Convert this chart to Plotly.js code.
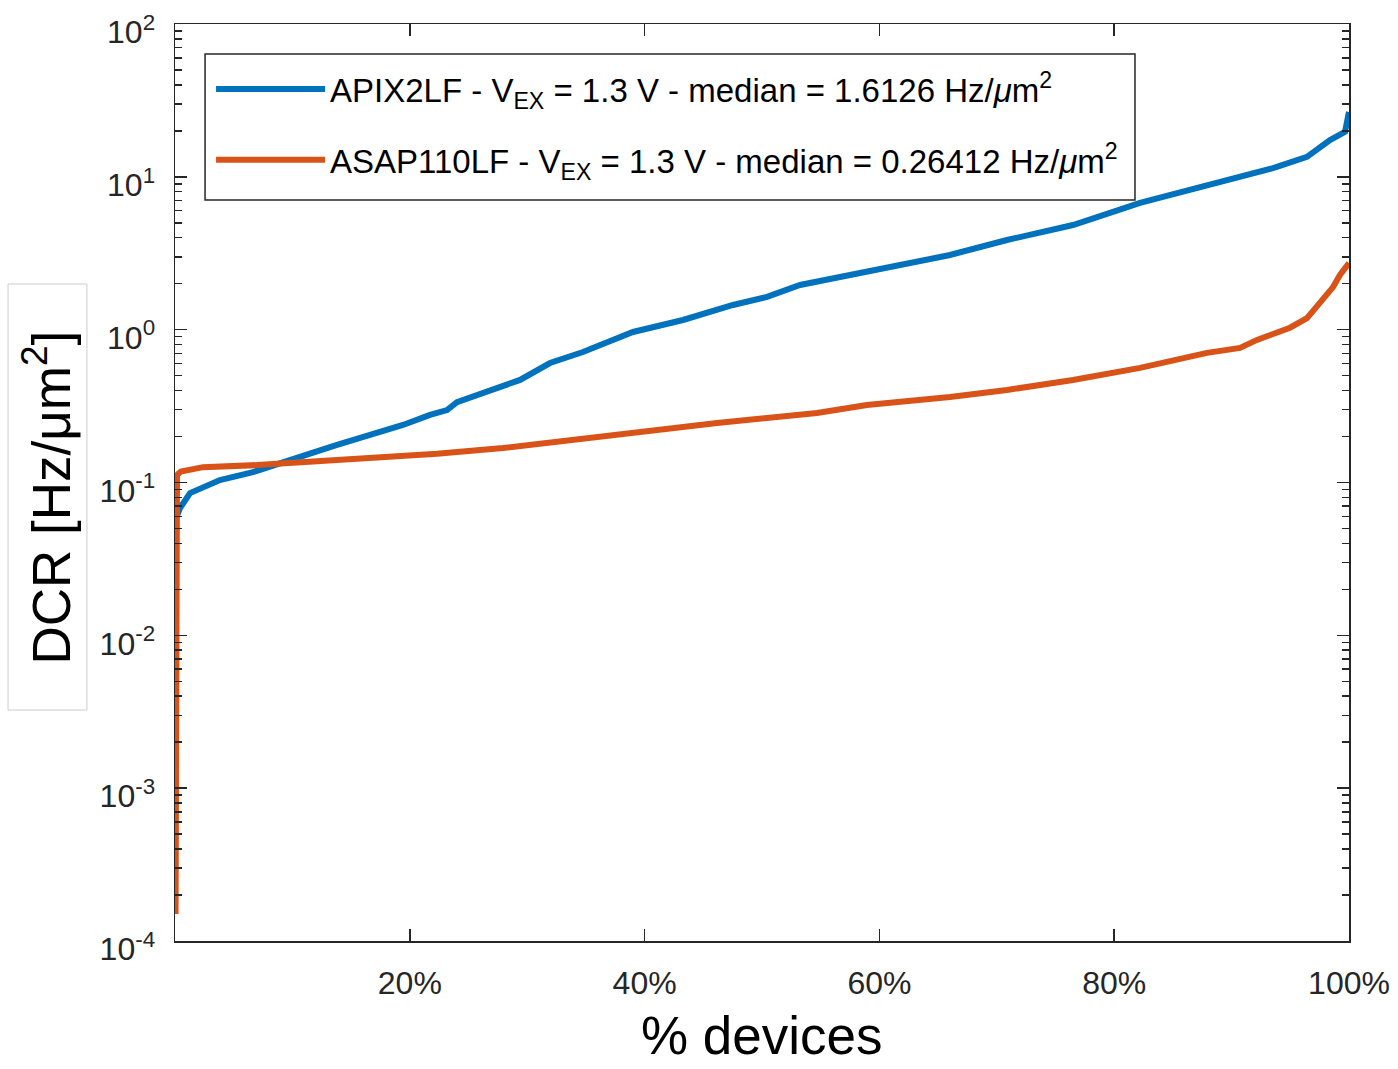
<!DOCTYPE html>
<html><head><meta charset="utf-8">
<script src="https://cdn.plot.ly/plotly-3.0.1.min.js"></script>
<style>html,body{margin:0;padding:0;background:#fff}#chart{width:1398px;height:1069px}</style>
</head><body><div id="chart"></div>
<script>
// % devices (x) and DCR [Hz/um^2] (y)
const blueX = [0.1, 0.43, 1.28, 3.83, 6.64, 8.94, 10.90, 13.80, 16.61, 19.42, 21.72, 23.17, 24.02, 26.58, 29.39, 31.94, 34.75, 39.01, 43.27, 47.53, 50.43, 53.24, 57.50, 61.75, 66.01, 70.87, 76.49, 82.20, 87.90, 93.53, 96.42, 98.38, 99.66, 99.83, 100];
const blueY = [0.0586, 0.0681, 0.0853, 0.1038, 0.117, 0.134, 0.151, 0.176, 0.205, 0.238, 0.277, 0.298, 0.336, 0.391, 0.469, 0.605, 0.714, 0.966, 1.157, 1.45, 1.64, 1.96, 2.28, 2.65, 3.08, 3.86, 4.84, 6.75, 8.85, 11.4, 13.5, 17.4, 19.7, 24.7, 26.6];
const orangeX = [0.05, 0.08, 0.11, 0.17, 0.5, 2.39, 6.98, 13.80, 22.32, 27.94, 33.65, 37.65, 46.17, 54.68, 58.94, 66.01, 70.87, 76.49, 82.20, 87.90, 90.72, 92.16, 94.97, 96.42, 97.78, 98.64, 99.23, 99.83, 100];
const orangeY = [0.00015, 0.01, 0.09, 0.112, 0.118, 0.126, 0.130, 0.140, 0.154, 0.168, 0.190, 0.205, 0.245, 0.285, 0.321, 0.363, 0.403, 0.469, 0.562, 0.705, 0.760, 0.857, 1.03, 1.19, 1.56, 1.90, 2.28, 2.65, 2.73];

const seriesNames = [
  'APIX2LF - V<sub>EX</sub> = 1.3 V - median = 1.6126 Hz/<i>μ</i>m<sup>2</sup>',
  'ASAP110LF - V<sub>EX</sub> = 1.3 V - median = 0.26412 Hz/<i>μ</i>m<sup>2</sup>'
];
const yTickVals = [1e-4, 1e-3, 1e-2, 1e-1, 1, 10, 100];
const yTickText = ['10<sup>-4</sup>', '10<sup>-3</sup>', '10<sup>-2</sup>', '10<sup>-1</sup>', '10<sup>0</sup>', '10<sup>1</sup>', '10<sup>2</sup>'];
const xTickVals = [20, 40, 60, 80, 100];
const xTickText = ['20%', '40%', '60%', '80%', '100%'];
const xTitle = '% devices';
const yTitle = 'DCR [Hz/μm<sup>2</sup>]';

const minorVals = [];
for (let d = -4; d < 2; d++) for (let k = 2; k <= 9; k++) minorVals.push(k * Math.pow(10, d));

const axisColor = '#262626';
const traces = [
  {x: blueX, y: blueY, type: 'scatter', mode: 'lines', name: seriesNames[0], legendgroup: 'a',
   line: {color: '#0072BD', width: 6}},
  {x: orangeX, y: orangeY, type: 'scatter', mode: 'lines', name: seriesNames[1], legendgroup: 'b',
   line: {color: '#D95319', width: 6}}
];

const layout = {
  width: 1398, height: 1069,
  margin: {l: 175, r: 49, t: 24, b: 128},
  paper_bgcolor: '#fff', plot_bgcolor: '#fff',
  font: {family: '"Liberation Sans", Arial, sans-serif', color: axisColor, size: 32},
  showlegend: true,
  legend: {x: 0.0307, y: 0.9597, xanchor: 'left', yanchor: 'top',
    borderwidth: 0, bgcolor: 'rgba(0,0,0,0)',
    font: {size: 33, color: '#000'}, itemwidth: 109, traceorder: 'grouped', tracegroupgap: 25},
  xaxis: {range: [0, 100], tickmode: 'array', tickvals: xTickVals, ticktext: xTickText,
    ticks: 'inside', ticklen: 12, tickwidth: 1.5, tickcolor: axisColor,
    showline: true, linecolor: axisColor, linewidth: 1.5, mirror: 'allticks',
    showgrid: false, zeroline: false, ticklabelstandoff: 13, automargin: false},
  yaxis: {type: 'log', range: [-4, 2], tickmode: 'array', tickvals: yTickVals, ticktext: yTickText,
    ticks: 'inside', ticklen: 12, tickwidth: 1.5, tickcolor: axisColor,
    minor: {tickmode: 'array', tickvals: minorVals, ticks: 'inside', ticklen: 7, tickwidth: 1.5, tickcolor: axisColor, showgrid: false},
    showline: true, linecolor: axisColor, linewidth: 1.5, mirror: 'allticks',
    showgrid: false, zeroline: false, ticklabelstandoff: 12, ticklabelshift: 8,
    ticklabeloverflow: 'allow', automargin: false},
  shapes: [
    {type: 'rect', xref: 'paper', yref: 'paper', x0: -0.1422, x1: -0.075, y0: 0.2519, y1: 0.7165,
     line: {color: '#cccccc', width: 1}, layer: 'above'},
    {type: 'rect', xref: 'paper', yref: 'paper', x0: 0.0256, x1: 0.8177, y0: 0.8081, y1: 0.9673,
     line: {color: axisColor, width: 1.5}, fillcolor: '#fff', layer: 'above'}
  ],
  annotations: [
    {text: yTitle, xref: 'paper', yref: 'paper', x: -0.1086, y: 0.4831,
     textangle: -90, showarrow: false, xanchor: 'center', yanchor: 'middle',
     font: {size: 53, color: '#000'}},
    {text: xTitle, xref: 'paper', yref: 'paper', x: 0.5, y: -0.1375,
     showarrow: false, xanchor: 'center', yanchor: 'bottom',
     font: {size: 53, color: '#000'}}
  ]
};

Plotly.newPlot('chart', traces, layout, {staticPlot: true, displayModeBar: false});
</script>
</body></html>
